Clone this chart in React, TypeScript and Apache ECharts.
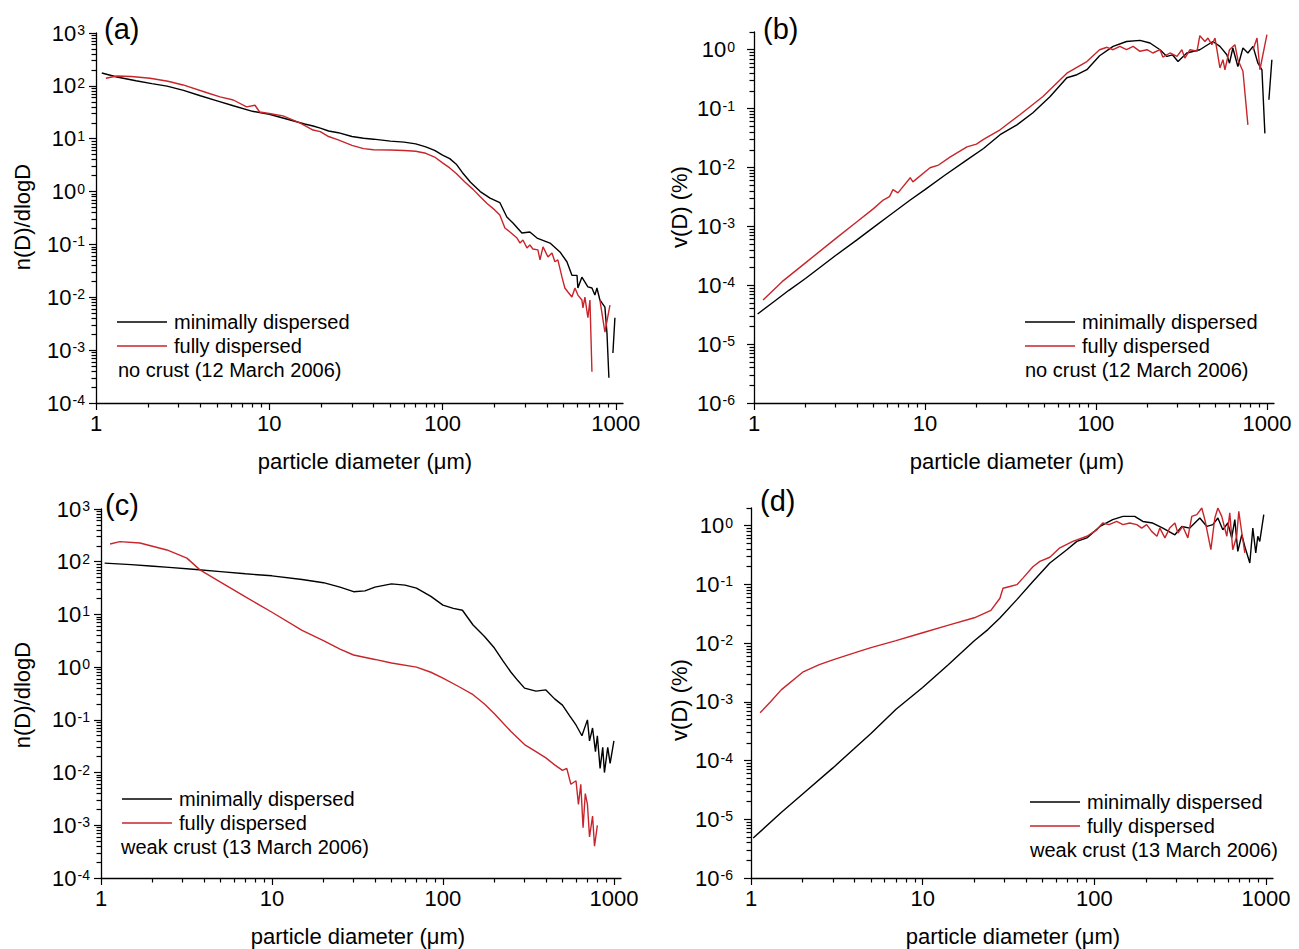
import React, { useEffect, useRef } from "react";
import * as echarts from "echarts";

const FONT = '"Liberation Sans", Arial, Helvetica, sans-serif';
const BLACK = "#000000";
const RED = "#c8252b";
const GAP = null;

// ---------- data: [particle diameter (um), value] ----------
// (a) no crust, n(D)/dlogD
const aMinimal = [
  [1.08, 175], [1.32, 147], [1.7, 125], [2.1, 110], [2.57, 99], [3.2, 82], [4, 65], [5, 52], [6.2, 42],
  [8, 33], [10, 29], [13.2, 22.6], [16, 19], [17.9, 17.4], [19.7, 15.9], [22, 14], [25, 13], [30, 11],
  [35, 10.2], [40, 9.8], [50, 9], [60, 8.6], [70, 8], [80, 7], [90, 6], [100, 4.9], [110, 4.2], [120, 3.3],
  [130, 2.3], [145, 1.5], [165, 1.0], [188, 0.75], [214, 0.62], [235, 0.33], [255, 0.255], [287, 0.165],
  [319, 0.172], [351, 0.132], [417, 0.106], [476, 0.072], [522, 0.047], [558, 0.026], [597, 0.026],
  [604, 0.015], [637, 0.024], [690, 0.0157], [728, 0.015], [757, 0.011], [778, 0.015], [809, 0.0089],
  [865, 0.0065], [889, 0.0021], [912, 0.0003], GAP, [962, 0.00088], [988, 0.0041],
];
const aFully = [
  [1.14, 139], [1.32, 154], [1.6, 150], [2.05, 139], [2.6, 122], [3.18, 104], [4.37, 74], [5.2, 62],
  [6.2, 54], [7.4, 40], [8.27, 43], [8.8, 32], [10, 30], [12, 27], [15, 20], [17.9, 14.6], [19.7, 13.6],
  [22, 11], [25, 9.5], [30, 7.5], [35, 6.5], [40, 6.2], [50, 6.1], [60, 6], [70, 5.8], [80, 5.3], [90, 4.5],
  [100, 3.5], [110, 2.8], [120, 2.2], [135, 1.5], [150, 1.1], [165, 0.8], [180, 0.6], [200, 0.45],
  [214, 0.36], [229, 0.205], [245, 0.172], [269, 0.132], [280, 0.106], [291, 0.121], [307, 0.086],
  [319, 0.098], [332, 0.082], [355, 0.079], [365, 0.051], [380, 0.09], [406, 0.058], [428, 0.069],
  [445, 0.047], [463, 0.051], [489, 0.024], [508, 0.015], [529, 0.0126], [558, 0.0101], [581, 0.015],
  [604, 0.011], [637, 0.0089], [646, 0.0063], [663, 0.0101], [690, 0.0041], [709, 0.0089], [728, 0.00039],
  GAP, [809, 0.0089], [865, 0.0022], [925, 0.0071],
];

// (b) no crust, v(D) (%)
const bMinimal = [
  [1.05, 3.25e-5], [1.3, 5.2e-5], [1.6, 8.2e-5], [2, 1.3e-4], [3, 3.2e-4], [4, 5.9e-4], [5, 9.6e-4],
  [6, 1.43e-3], [8.2, 2.8e-3], [10, 4.2e-3], [13, 7.3e-3], [17.6, 0.0135], [22, 0.021], [27.5, 0.036],
  [34.5, 0.053], [42.8, 0.085], [53.8, 0.159], [67.6, 0.334], [77.4, 0.376], [88.5, 0.457], [105, 0.79],
  [126, 1.14], [151, 1.38], [181, 1.44], [207, 1.3], [237, 1.0], [260, 0.77], [280, 0.82], [302, 0.63],
  [340, 0.88], [405, 1.0], [483, 1.38], [531, 1.14], [583, 0.82], [604, 0.59], [632, 1.07], [676, 0.52],
  [724, 1.07], [774, 0.88], [829, 1.14], [886, 0.59], [935, 0.457], [973, 0.038], GAP, [1027, 0.141],
  [1069, 0.676],
];
const bFully = [
  [1.13, 5.6e-5], [1.46, 1.15e-4], [2, 2.4e-4], [3, 6.2e-4], [4, 1.2e-3], [5, 2.0e-3], [5.7, 2.8e-3],
  [6.2, 3.2e-3], [6.5, 4.2e-3], [6.95, 3.7e-3], [8.2, 6.7e-3], [8.5, 5.7e-3], [10.7, 9.9e-3], [12, 0.011],
  [14, 0.015], [17.6, 0.0224], [20, 0.025], [22, 0.03], [27.5, 0.0437], [35.9, 0.0785], [49, 0.161],
  [67.6, 0.4], [88.5, 0.63], [105, 1.0], [116, 1.1], [126, 1.0], [138, 1.14], [151, 1.0], [165, 1.14],
  [181, 0.94], [199, 1.0], [215, 0.88], [237, 1.0], [246, 0.75], [271, 0.88], [298, 0.77], [318, 1.0],
  [331, 0.72], [355, 1.0], [390, 0.94], [405, 1.73], [434, 1.38], [452, 1.58], [476, 1.22], [497, 1.58],
  [531, 0.49], [553, 0.676], [568, 0.457], [604, 1.0], [650, 1.22], [676, 0.676], [724, 0.43], [774, 0.053],
  GAP, [829, 1.0], [875, 1.58], [910, 0.457], [1000, 1.8],
];

// (c) weak crust, n(D)/dlogD
const cMinimal = [
  [1.05, 94], [1.5, 88], [1.94, 83], [2.5, 78], [3.45, 72], [5, 65], [7, 59], [10, 54], [15, 46], [20, 40],
  [25, 33], [30, 27], [35, 28], [40, 33], [50, 38], [60, 36], [70, 31.6], [85, 22], [100, 15], [115, 13],
  [130, 12], [150, 6.3], [175, 3.8], [200, 2.3], [225, 1.3], [250, 0.8], [275, 0.55], [300, 0.4],
  [350, 0.35], [400, 0.37], [450, 0.25], [500, 0.19], [550, 0.12], [600, 0.08], [650, 0.05], [700, 0.1],
  [720, 0.04], [750, 0.07], [780, 0.025], [800, 0.05], [830, 0.012], [860, 0.03], [880, 0.01], [920, 0.03],
  [950, 0.015], [1000, 0.04],
];
const cFully = [
  [1.13, 217], [1.29, 240], [1.69, 226], [2.43, 167], [3.18, 117], [3.79, 70], [5, 41], [7, 21.5],
  [10, 11], [15, 5], [20, 3.2], [25, 2.2], [30, 1.7], [40, 1.4], [50, 1.2], [70, 1.0], [85, 0.8],
  [100, 0.62], [125, 0.42], [150, 0.3], [175, 0.2], [200, 0.13], [250, 0.06], [300, 0.034], [350, 0.025],
  [400, 0.019], [450, 0.014], [500, 0.011], [530, 0.012], [560, 0.006], [600, 0.007], [620, 0.0025],
  [640, 0.006], [660, 0.0009], [680, 0.004], [700, 0.0025], [720, 0.0006], [750, 0.0015], [770, 0.0004],
  [800, 0.001],
];

// (d) weak crust, v(D) (%)
const dMinimal = [
  [1.03, 4.8e-6], [1.5, 1.3e-5], [2, 2.7e-5], [3, 7.5e-5], [4, 1.6e-4], [5, 2.9e-4], [7, 7.5e-4],
  [10, 1.75e-3], [14, 4.2e-3], [20, 0.011], [24, 0.017], [28.2, 0.0267], [35.4, 0.055], [43.9, 0.112],
  [55.1, 0.231], [69.2, 0.39], [79.2, 0.54], [90.6, 0.62], [108, 0.97], [128, 1.27], [147, 1.44],
  [172, 1.44], [192, 1.18], [219, 1.11], [251, 0.91], [295, 0.7], [324, 0.97], [360, 0.91], [412, 1.35],
  [453, 0.97], [491, 1.04], [525, 1.35], [561, 0.85], [600, 1.11], [632, 0.62], [659, 1.27], [686, 0.365],
  [724, 0.7], [754, 0.44], [806, 0.231], [839, 0.91], [873, 0.343], [897, 0.66], [921, 0.54], [972, 1.54],
];
const dFully = [
  [1.13, 6.5e-4], [1.3, 1.0e-3], [1.5, 1.6e-3], [2, 3.2e-3], [2.5, 4.3e-3], [3, 5.2e-3], [4, 6.8e-3],
  [5, 8.4e-3], [7, 0.011], [10, 0.015], [14, 0.02], [20, 0.027], [25, 0.036], [28.2, 0.058], [29.4, 0.086],
  [32.2, 0.092], [35.4, 0.099], [38.4, 0.128], [43.9, 0.2], [48.2, 0.247], [55.1, 0.29], [63, 0.42],
  [75, 0.54], [90.6, 0.66], [103.5, 0.85], [112, 1.11], [122, 1.04], [135, 1.18], [147, 1.04], [161, 1.11],
  [177, 1.04], [189, 0.91], [202, 1.04], [216, 0.8], [232, 0.66], [241, 0.91], [258, 0.62], [275, 0.91],
  [295, 1.11], [307, 0.75], [328, 0.97], [351, 0.62], [370, 1.44], [396, 1.54], [423, 2.0], [441, 1.27],
  [478, 0.39], [504, 1.35], [525, 2.0], [553, 1.44], [592, 0.66], [616, 1.65], [641, 0.39], [676, 0.66],
  [695, 1.75], [724, 0.75], [754, 0.343],
];

const SERIES_NAMES = ["minimally dispersed", "fully dispersed"];
const PANEL_LABELS = ["(a)", "(b)", "(c)", "(d)"];
const NOTES = ["no crust (12 March 2006)", "no crust (12 March 2006)", "weak crust (13 March 2006)", "weak crust (13 March 2006)"];
const Y_TITLES = ["n(D)/dlogD", "v(D) (%)", "n(D)/dlogD", "v(D) (%)"];
const X_TITLE = "particle diameter (\u03bcm)";
const X_RANGE = [1, 1100];
const Y_RANGES = [[1e-4, 1e3], [1e-6, 2], [1e-4, 1e3], [1e-6, 2]];
const PANEL_DATA = [[aMinimal, aFully], [bMinimal, bFully], [cMinimal, cFully], [dMinimal, dFully]];

// ---------- layout ----------
const GRIDS = [
  { left: 96, top: 33, width: 527, height: 370 },
  { left: 754, top: 32, width: 520, height: 371 },
  { left: 101, top: 509, width: 520, height: 369 },
  { left: 751, top: 508, width: 522, height: 370 },
];
const Y_LABEL_MARGIN = [11, 19, 11, 18];
const LEGEND_POS = [
  { left: 117, row: 322, noteX: 118 },
  { left: 1025, row: 322, noteX: 1025 },
  { left: 122, row: 799, noteX: 121 },
  { left: 1030, row: 802, noteX: 1030 },
];
const PANEL_LABEL_POS = [[104, 29], [763, 29], [105, 505], [760, 501]];
const Y_TITLE_POS = [[22, 217], [679, 207], [22, 695], [679, 700]];
const X_TITLE_POS = [[365, 461], [1017, 461], [358, 936], [1013, 936]];
const MAJOR_TICK = 7;
const MINOR_TICK = 4.5;

// decade (major) and 2..9 (minor) tick values inside [min, max]
function logTicks(min: number, max: number, major: boolean) {
  const out: number[] = [];
  for (let e = Math.floor(Math.log10(min)); e <= Math.ceil(Math.log10(max)); e++) {
    for (let m = 1; m <= 9; m++) {
      if ((m === 1) !== major) continue;
      const v = m * Math.pow(10, e);
      if (v >= min * 0.9999 && v <= max * 1.0001) out.push(v);
    }
  }
  return out;
}

function buildTexts() {
  const graphic: any[] = [];
  GRIDS.forEach((_, i) => {
    const lp = LEGEND_POS[i];
    graphic.push({
      type: "text", x: lp.noteX, y: lp.row + 48,
      style: { text: NOTES[i], fontSize: 20, fontFamily: FONT, fill: "#000", textAlign: "left", textVerticalAlign: "middle" },
    });
    graphic.push({
      type: "text", x: PANEL_LABEL_POS[i][0], y: PANEL_LABEL_POS[i][1],
      style: { text: PANEL_LABELS[i], fontSize: 29, fontFamily: FONT, fill: "#000", textAlign: "left", textVerticalAlign: "middle" },
    });
    graphic.push({
      type: "text", x: Y_TITLE_POS[i][0], y: Y_TITLE_POS[i][1], rotation: Math.PI / 2,
      style: { text: Y_TITLES[i], fontSize: 22, fontFamily: FONT, fill: "#000", textAlign: "center", textVerticalAlign: "middle" },
    });
    graphic.push({
      type: "text", x: X_TITLE_POS[i][0], y: X_TITLE_POS[i][1],
      style: { text: X_TITLE, fontSize: 22, fontFamily: FONT, fill: "#000", textAlign: "center", textVerticalAlign: "middle" },
    });
  });
  return graphic;
}

function buildOption() {
  const xAxis: any[] = [];
  const yAxis: any[] = [];
  const xMinor: any[] = [];
  const yMinor: any[] = [];
  const series: any[] = [];
  const legend: any[] = [];
  const tickLine = { color: "#000", width: 1.2 };

  GRIDS.forEach((_, i) => {
    const [ymin, ymax] = Y_RANGES[i];
    const xMajorVals = logTicks(X_RANGE[0], X_RANGE[1], true);
    const yMajorVals = logTicks(ymin, ymax, true);
    xAxis.push({
      type: "log", logBase: 10, gridIndex: i, min: X_RANGE[0], max: X_RANGE[1], position: "bottom",
      axisLine: { show: true, lineStyle: { color: "#000", width: 1.3 } },
      axisTick: { show: true, inside: false, length: MAJOR_TICK, customValues: xMajorVals, lineStyle: tickLine },
      splitLine: { show: false },
      axisLabel: {
        margin: 9, color: "#000", fontSize: 22, fontFamily: FONT, customValues: xMajorVals,
        formatter: (v: number) => String(Math.round(v)),
      },
    });
    yAxis.push({
      type: "log", logBase: 10, gridIndex: i, min: ymin, max: ymax, position: "left",
      axisLine: { show: true, lineStyle: { color: "#000", width: 1.3 } },
      axisTick: { show: true, inside: false, length: MAJOR_TICK, customValues: yMajorVals, lineStyle: tickLine },
      splitLine: { show: false },
      axisLabel: {
        margin: Y_LABEL_MARGIN[i], color: "#000", customValues: yMajorVals,
        formatter: (v: number) => `{b|10}{s|${Math.round(Math.log10(v))}}`,
        rich: {
          b: { fontSize: 22, fontFamily: FONT, color: "#000", lineHeight: 24 },
          s: { fontSize: 14, fontFamily: FONT, color: "#000", verticalAlign: "top", lineHeight: 14, padding: [2, 0, 0, 1] },
        },
      },
    });
    // companion axes carrying the minor (2..9) ticks on the same scale
    xMinor.push({
      type: "log", logBase: 10, gridIndex: i, min: X_RANGE[0], max: X_RANGE[1], position: "bottom", offset: 0,
      axisLine: { show: false }, splitLine: { show: false }, axisLabel: { show: false },
      axisTick: { show: true, inside: false, length: MINOR_TICK, customValues: logTicks(X_RANGE[0], X_RANGE[1], false), lineStyle: tickLine },
    });
    yMinor.push({
      type: "log", logBase: 10, gridIndex: i, min: ymin, max: ymax, position: "left", offset: 0,
      axisLine: { show: false }, splitLine: { show: false }, axisLabel: { show: false },
      axisTick: { show: true, inside: false, length: MINOR_TICK, customValues: logTicks(ymin, ymax, false), lineStyle: tickLine },
    });

    const [minData, fullData] = PANEL_DATA[i];
    [minData, fullData].forEach((arr, k) => {
      series.push({
        type: "line", name: SERIES_NAMES[k], xAxisIndex: i, yAxisIndex: i,
        data: arr.map((p: any) => (p === null ? ["-", "-"] : p)),
        showSymbol: false, symbol: "none", connectNulls: false,
        color: k === 0 ? BLACK : RED,
        lineStyle: { color: k === 0 ? BLACK : RED, width: 1.4 },
        z: 2 + k,
      });
    });

    const lp = LEGEND_POS[i];
    legend.push({
      left: lp.left, top: lp.row - 10, orient: "vertical", itemWidth: 50, itemHeight: 1.5,
      icon: "rect", itemGap: 4, selectedMode: false, padding: 0,
      textStyle: { fontSize: 20, fontFamily: FONT, color: "#000", padding: [0, 0, 0, 2] },
      data: SERIES_NAMES,
    });
  });

  return {
    animation: false,
    backgroundColor: "#ffffff",
    grid: GRIDS.map((g) => ({ ...g, containLabel: false })),
    xAxis: [...xAxis, ...xMinor],
    yAxis: [...yAxis, ...yMinor],
    series, legend,
    graphic: { elements: buildTexts() },
  };
}

export default function App() {
  const ref = useRef<HTMLDivElement>(null);
  useEffect(() => {
    if (!ref.current) return;
    const chart = echarts.init(ref.current, null, { renderer: "svg", width: 1299, height: 949 });
    chart.setOption(buildOption() as any);
    return () => chart.dispose();
  }, []);
  return (
    <div
      ref={ref}
      style={{ position: "fixed", left: 0, top: 0, width: 1299, height: 949, background: "#fff" }}
    />
  );
}
